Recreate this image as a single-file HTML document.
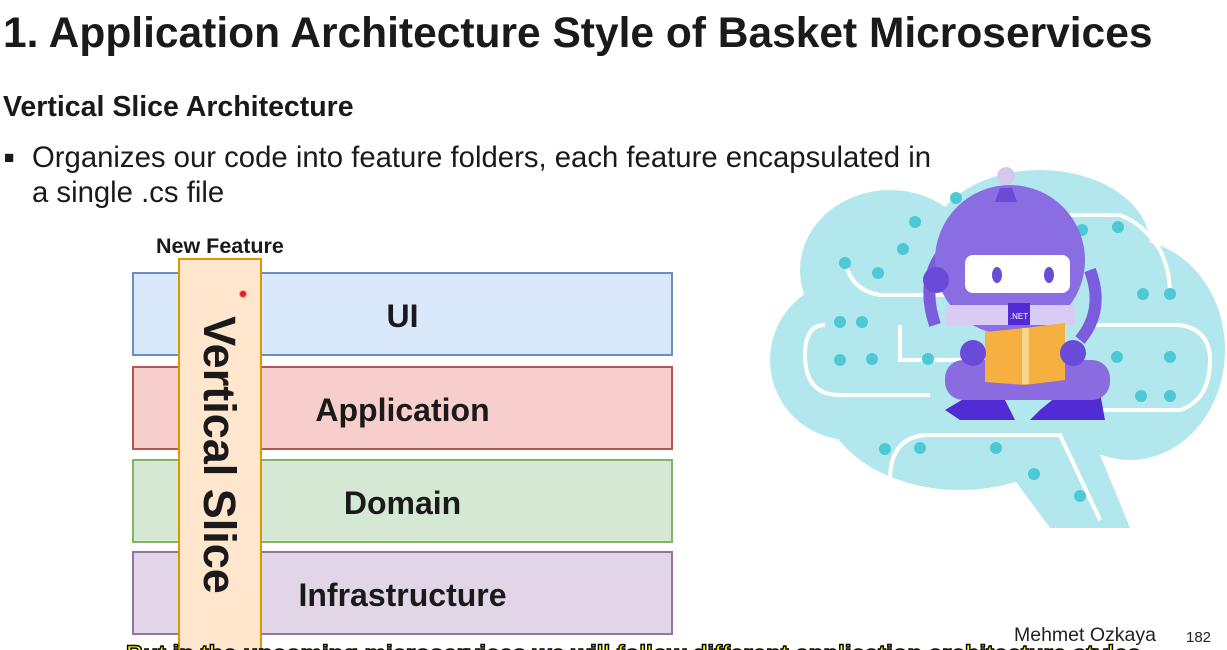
<!DOCTYPE html>
<html><head><meta charset="utf-8"><style>
html,body{margin:0;width:1227px;height:650px;overflow:hidden}
body{background:#fff;font-family:"Liberation Sans",sans-serif;position:relative;color:#1a1a1a}
.a{position:absolute}
.layer{position:absolute;left:132px;width:537px;height:80px;border:2px solid;font-weight:bold;font-size:32px;text-align:center;line-height:84px}
</style></head><body>
<div class="a" style="left:3px;top:10px;font-size:42.5px;font-weight:bold;white-space:nowrap">1. Application Architecture Style of Basket Microservices</div>
<div class="a" style="left:3px;top:91px;font-size:28.5px;font-weight:bold;white-space:nowrap">Vertical Slice Architecture</div>
<div class="a" style="left:4px;top:148px;font-size:17px">■</div>
<div class="a" style="left:32px;top:140px;font-size:29.3px;line-height:35px;width:960px">Organizes our code into feature folders, each feature encapsulated in<br>a single .cs file</div>
<div class="a" style="left:156px;top:234px;font-size:21.5px;font-weight:bold;white-space:nowrap">New Feature</div>
<div class="layer" style="top:272px;background:#dae8fc;border-color:#6c8ebf">UI</div>
<div class="layer" style="top:366px;background:#f8cecc;border-color:#b85450">Application</div>
<div class="layer" style="top:459px;background:#d5e8d4;border-color:#82b366">Domain</div>
<div class="layer" style="top:551px;background:#e1d5e7;border-color:#9673a6">Infrastructure</div>
<div class="a" style="left:178px;top:258px;width:80px;height:400px;background:#ffe6cc;border:2px solid #d79b00"></div>
<div class="a" style="left:219px;top:455px;transform:translate(-50%,-50%) rotate(90deg);font-size:45px;font-weight:bold;white-space:nowrap">Vertical Slice</div>
<div class="a" style="left:239px;top:290px;width:6px;height:6px;border-radius:50%;background:#e02020;border:1px solid #f99"></div>
<svg class="a" style="left:760px;top:160px" width="467" height="380" viewBox="0 0 467 380">
<g fill="#b2e8ed">
<ellipse cx="130" cy="110" rx="90" ry="80"/><ellipse cx="280" cy="85" rx="110" ry="75"/>
<ellipse cx="90" cy="200" rx="80" ry="80"/><ellipse cx="370" cy="190" rx="95" ry="110"/>
<ellipse cx="200" cy="230" rx="140" ry="100"/><rect x="100" y="230" width="230" height="80" rx="40"/>
<polygon points="240,300 330,270 370,368 290,368"/>
</g>
<g stroke="#fff" stroke-width="4" fill="none">
<path d="M85 100 Q90 130 120 135 L280 135"/><path d="M65 165 Q45 165 45 195 Q45 235 80 235 L170 235"/>
<path d="M140 165 L140 200 L240 200"/><path d="M300 250 L420 250 Q450 240 450 200 Q450 170 420 165 L330 165"/>
<path d="M130 320 Q130 275 170 275 L300 275 L340 360"/><path d="M280 55 L360 55 Q385 65 400 90 Q410 110 410 135"/>
</g>
<g fill="#4cc9d4">
<circle cx="196" cy="38" r="6"/><circle cx="155" cy="62" r="6"/><circle cx="143" cy="89" r="6"/><circle cx="85" cy="103" r="6"/>
<circle cx="118" cy="113" r="6"/><circle cx="80" cy="162" r="6"/><circle cx="102" cy="162" r="6"/><circle cx="80" cy="200" r="6"/>
<circle cx="112" cy="199" r="6"/><circle cx="168" cy="199" r="6"/><circle cx="125" cy="289" r="6"/><circle cx="160" cy="288" r="6"/>
<circle cx="236" cy="288" r="6"/><circle cx="274" cy="314" r="6"/><circle cx="320" cy="336" r="6"/><circle cx="358" cy="67" r="6"/>
<circle cx="383" cy="134" r="6"/><circle cx="410" cy="134" r="6"/><circle cx="357" cy="197" r="6"/><circle cx="410" cy="197" r="6"/>
<circle cx="381" cy="236" r="6"/><circle cx="410" cy="236" r="6"/><circle cx="322" cy="70" r="6"/>
</g>
<g>
<path d="M185 250 L235 220 L255 260 L200 260Z" fill="#512bd4"/><path d="M280 250 L335 205 L345 260 L270 260Z" fill="#512bd4"/>
<rect x="185" y="200" width="165" height="40" rx="18" fill="#8a6be0"/>
<path d="M185 90 Q160 120 175 165" stroke="#7b5cdc" stroke-width="12" fill="none"/>
<path d="M330 110 Q345 150 320 180" stroke="#7b5cdc" stroke-width="12" fill="none"/>
<circle cx="250" cy="100" r="75" fill="#8b6de3"/>
<rect x="185" y="145" width="130" height="20" fill="#d8ccf5"/>
<rect x="205" y="95" width="105" height="38" rx="8" fill="#fff"/>
<ellipse cx="237" cy="115" rx="5" ry="8" fill="#6a4bd8"/><ellipse cx="289" cy="115" rx="5" ry="8" fill="#6a4bd8"/>
<rect x="248" y="143" width="22" height="22" fill="#512bd4"/><text x="259" y="159" font-size="8" fill="#fff" text-anchor="middle" font-family="Liberation Sans">.NET</text>
<path d="M225 172 L265 168 L305 163 L305 220 L265 225 L225 222Z" fill="#f5b041"/><rect x="262" y="168" width="7" height="56" fill="#fcd48a"/>
<circle cx="176" cy="120" r="13" fill="#6a4bd8"/><circle cx="213" cy="193" r="13" fill="#6a4bd8"/><circle cx="313" cy="193" r="13" fill="#6a4bd8"/>
<path d="M235 42 L240 28 L252 28 L257 42Z" fill="#6a4bd8"/><circle cx="246" cy="16" r="9" fill="#d4c8ee"/>
</g>
</svg>
<div class="a" style="left:1014px;top:624px;font-size:19.5px;color:#222;white-space:nowrap">Mehmet Ozkaya</div>
<div class="a" style="left:1186px;top:629px;font-size:15px;color:#222">182</div>
<div class="a" style="left:126px;top:641px;font-size:24px;font-weight:bold;color:#ffff00;-webkit-text-stroke:1.5px #000;white-space:nowrap">But in the upcoming microservices we will follow different application architecture styles</div>
</body></html>
